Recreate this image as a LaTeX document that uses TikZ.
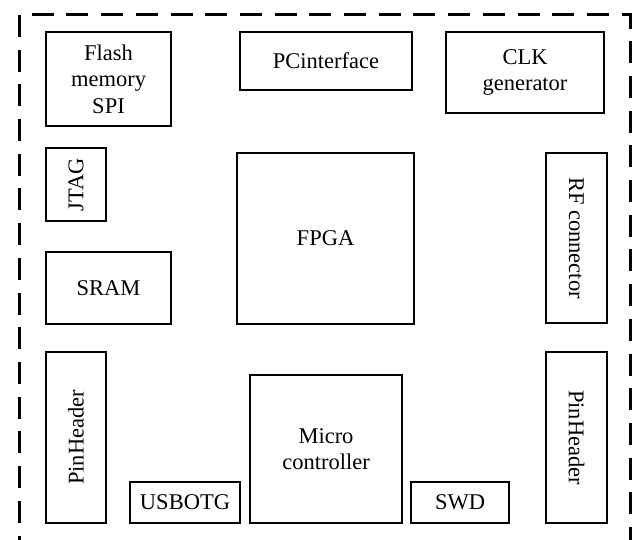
\documentclass[tikz,border=0pt]{standalone}
\usepackage{fontspec}
\setmainfont{Liberation Serif}
\begin{document}
\begin{tikzpicture}[x=1pt,y=-1pt,
  blk/.style={draw=black, line width=2.6pt, inner sep=0pt, outer sep=0pt,
    align=center, font=\fontsize{22.5}{26.5}\selectfont},
  frame/.style={draw=black, line width=3pt, dash pattern=on 22pt off 12.7pt}]
  \useasboundingbox (0,0) rectangle (632,540);
  % board outline (open at the bottom)
  \coordinate (bl) at (19,540);
  \coordinate (tl) at (19,15);
  \coordinate (tr) at (630,15);
  \coordinate (br) at (630,540);
  \draw[frame] (tl) -- (bl);
  \draw[frame, dash phase=22pt] (tl) -- (tr) -- (br);
  % top row
  \node[blk, minimum width=125pt, minimum height=94pt] (flash) at (108.5,79) {Flash\\memory\\SPI};
  \node[blk, minimum width=172pt, minimum height=58pt] (pci) at (326,61) {PCinterface};
  \node[blk, minimum width=158pt, minimum height=81pt] (clk) at (525,72.5) {CLK\\generator};
  % middle row
  \node[blk, minimum width=60pt, minimum height=73pt] (jtag) at (76,184.5) {\rotatebox{90}{JTAG}};
  \node[blk, minimum width=125pt, minimum height=72pt] (sram) at (108.5,288) {SRAM};
  \node[blk, minimum width=177pt, minimum height=171pt] (fpga) at (325.5,238.5) {FPGA};
  \node[blk, minimum width=61pt, minimum height=170pt] (rf) at (576.5,238) {\rotatebox{-90}{RF connector}};
  % bottom row
  \node[blk, minimum width=60pt, minimum height=171pt] (pinl) at (76,437.5) {\rotatebox{90}{PinHeader}};
  \node[blk, minimum width=110pt, minimum height=41pt] (usb) at (185,502.5) {USBOTG};
  \node[blk, minimum width=152pt, minimum height=148pt] (mcu) at (326,449) {Micro\\controller};
  \node[blk, minimum width=98pt, minimum height=41pt] (swd) at (460,502.5) {SWD};
  \node[blk, minimum width=61pt, minimum height=171pt] (pinr) at (576.5,437.5) {\rotatebox{-90}{PinHeader}};
\end{tikzpicture}
\end{document}
